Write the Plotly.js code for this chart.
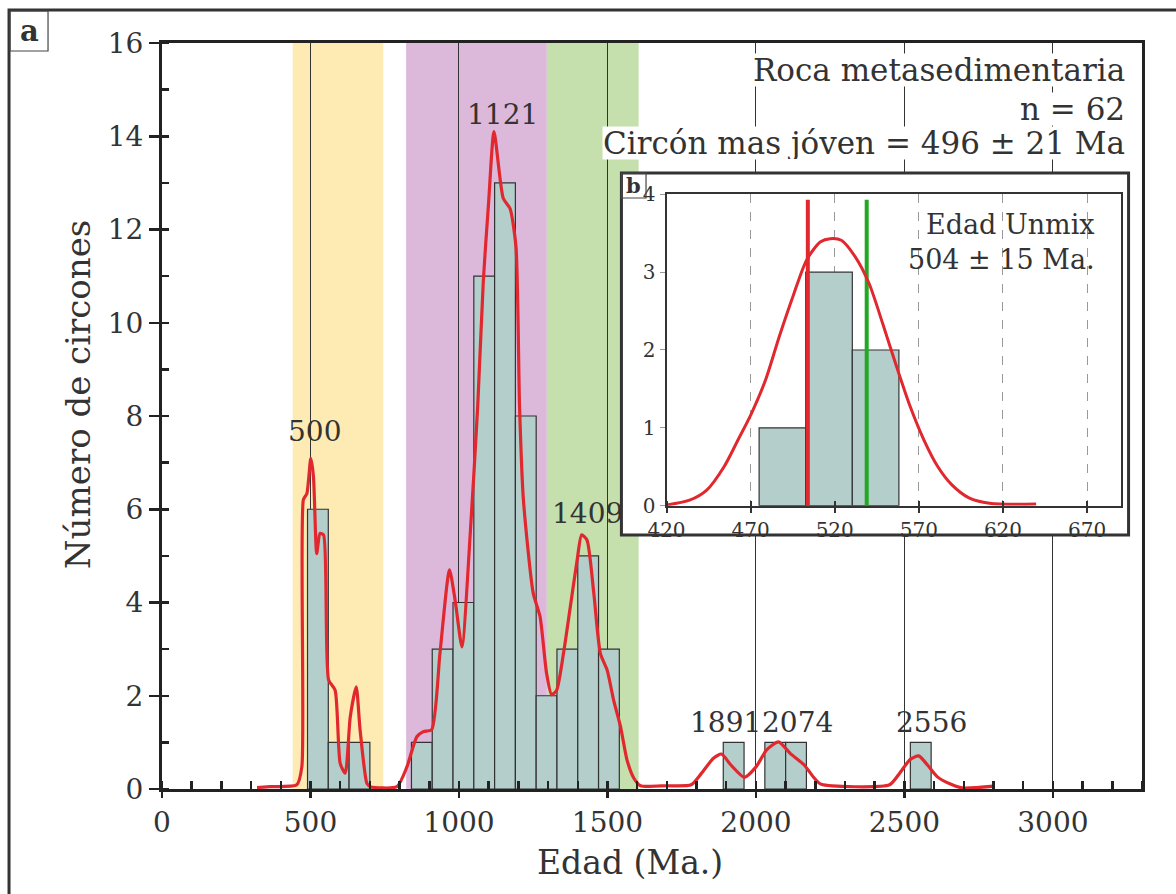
<!DOCTYPE html>
<html><head><meta charset="utf-8">
<script src="https://cdn.plot.ly/plotly-3.0.1.min.js"></script>
<style>html,body{margin:0;padding:0;background:#fff}#chart{width:1176px;height:894px}</style>
</head><body><div id="chart"></div>
<script>
// ---- main histogram (bins of 70 Ma) ----
const binCenters = [525, 595, 665, 875, 945, 1015, 1085, 1155, 1225, 1295, 1365, 1435, 1505, 1925, 2065, 2135, 2555];
const binCounts  = [6, 1, 1, 1, 3, 4, 11, 13, 8, 2, 3, 5, 3, 1, 1, 1, 1];
const binWidth = 70;

// ---- probability density curve ----
const kdeAge = [320, 364, 454, 471, 476, 488, 501, 510, 521, 532, 544, 561, 583, 600, 617, 634, 654, 667, 690, 701,
  791, 825, 858, 880, 908, 936, 968, 987, 1010, 1038, 1063, 1082, 1100, 1118, 1149, 1172, 1192, 1204, 1217, 1250,
  1273, 1295, 1312, 1329, 1352, 1375, 1398, 1413, 1431, 1454, 1476, 1499, 1521, 1544, 1566, 1589, 1611, 1700,
  1782, 1817, 1857, 1884, 1915, 1961, 2001, 2036, 2076, 2116, 2162, 2197, 2220, 2450, 2484, 2519, 2548, 2577,
  2611, 2657, 2698, 2801];
const kdeVal = [0.03, 0.05, 0.09, 0.48, 6.2, 6.34, 7.09, 6.7, 5.05, 5.48, 5.45, 2.34, 2.12, 0.55, 0.34, 1.55, 2.19, 1.27, 0.12, 0.05,
  0.05, 0.48, 1.12, 1.23, 1.27, 2.91, 4.7, 4.05, 3.05, 5.48, 8.2, 10.9, 12.6, 14.1, 12.67, 12.45, 11.63, 8.2, 6.2, 4.2,
  3.7, 2.48, 2.02, 2.12, 2.91, 3.91, 4.91, 5.45, 5.34, 4.2, 2.91, 2.55, 1.9, 1.34, 0.62, 0.23, 0.07, 0.07,
  0.09, 0.34, 0.66, 0.75, 0.52, 0.25, 0.48, 0.84, 1.01, 0.76, 0.52, 0.23, 0.1, 0.09, 0.34, 0.63, 0.71, 0.52,
  0.26, 0.1, 0.02, 0.06];

// ---- peak labels ----
const peakLabels   = ['500', '1121', '1409', '1891', '2074', '2556'];
const peakLabelAge = [512, 1146, 1432, 1896, 2140, 2592];
const peakLabelY   = [7.66, 14.46, 5.9, 1.43, 1.43, 1.43];

// ---- coloured age bands ----
const bandStart  = [440, 822, 1296];
const bandEnd    = [745, 1296, 1605];
const bandColors = ['#fdebb3', '#dcb9db', '#c5dfad'];

// ---- inset (b) ----
const insetCenters = [488.9, 516.6, 544.3];
const insetCounts  = [1, 3, 2];
const insetWidth = 27.7;
const insetCurveAge = [420.4, 433.7, 443.9, 454.2, 462.4, 470.6, 478.8, 487, 495.2, 503.4, 511.6, 517.3, 523.9, 532.1,
  540.3, 548.5, 556.7, 564.9, 573.1, 581.3, 589.5, 599.8, 612, 639.7];
const insetCurveVal = [0.01, 0.07, 0.2, 0.5, 0.84, 1.19, 1.61, 2.17, 2.69, 3.16, 3.39, 3.43, 3.41, 3.2,
  2.86, 2.34, 1.79, 1.27, 0.84, 0.5, 0.27, 0.1, 0.03, 0.02];
const unmixAge = 504;
const secondAge = 539;
const markerTop = 3.93;

const FONT = '"DejaVu Serif", "Liberation Serif", serif';
const TXT = '#333333';

const traces = [
  { type: 'bar', x: binCenters, y: binCounts, width: binWidth, xaxis: 'x', yaxis: 'y',
    marker: { color: '#b4cecb', line: { color: '#333', width: 1.2 } }, hoverinfo: 'x+y' },
  { type: 'scatter', mode: 'lines', x: kdeAge, y: kdeVal, xaxis: 'x', yaxis: 'y',
    line: { color: '#e0282e', width: 3.2, shape: 'spline', smoothing: 0.6 } },
  // blank white box behind the inset
  { type: 'scatter', mode: 'markers', x: [], y: [], xaxis: 'x2', yaxis: 'y2' },
  { type: 'bar', x: insetCenters, y: insetCounts, width: insetWidth, xaxis: 'x3', yaxis: 'y3',
    marker: { color: '#b4cecb', line: { color: '#333', width: 1.2 } } },
  { type: 'scatter', mode: 'lines', x: [unmixAge, unmixAge], y: [0, markerTop], xaxis: 'x3', yaxis: 'y3',
    line: { color: '#e0282e', width: 4 } },
  { type: 'scatter', mode: 'lines', x: [secondAge, secondAge], y: [0, markerTop], xaxis: 'x3', yaxis: 'y3',
    line: { color: '#22a822', width: 4 } },
  { type: 'scatter', mode: 'lines', x: insetCurveAge, y: insetCurveVal, xaxis: 'x3', yaxis: 'y3',
    line: { color: '#e0282e', width: 3, shape: 'spline', smoothing: 0.8 } }
];

const shapes = bandStart.map((s, i) => ({
  type: 'rect', xref: 'x', yref: 'y', x0: s, x1: bandEnd[i], y0: 0, y1: 16,
  fillcolor: bandColors[i], line: { width: 0 }, layer: 'below'
}));
// figure frame
shapes.push({ type: 'rect', xref: 'paper', yref: 'paper', x0: -0.1561, x1: 1.04, y0: -0.15, y1: 1.0442,
  line: { color: '#333', width: 3 }, fillcolor: 'rgba(0,0,0,0)', layer: 'above' });
// "a" box
shapes.push({ type: 'rect', xref: 'paper', yref: 'paper', x0: -0.1551, x1: -0.1163, y0: 0.9893, y1: 1.0429,
  line: { color: '#444', width: 1.2 }, fillcolor: 'rgba(0,0,0,0)', layer: 'above' });
// inset frame
shapes.push({ type: 'rect', xref: 'paper', yref: 'paper', x0: 0.4688, x1: 0.9863, y0: 0.3405, y1: 0.8257,
  line: { color: '#333', width: 3 }, fillcolor: 'rgba(0,0,0,0)', layer: 'above' });
// "b" box
shapes.push({ type: 'rect', xref: 'paper', yref: 'paper', x0: 0.4688, x1: 0.4939, y0: 0.7922, y1: 0.8257,
  line: { color: '#444', width: 1.2 }, fillcolor: 'rgba(0,0,0,0)', layer: 'above' });

const annotations = peakLabels.map((t, i) => ({
  text: t, x: peakLabelAge[i], y: peakLabelY[i], xref: 'x', yref: 'y', showarrow: false,
  xanchor: 'center', yanchor: 'middle', font: { family: FONT, size: 28, color: TXT }
}));
const infoLines = ['Roca metasedimentaria', 'n = 62', 'Circón mas jóven = 496 ± 21 Ma'];
const infoY = [0.9638, 0.9115, 0.8660];
infoLines.forEach((t, i) => annotations.push({
  text: t, xref: 'paper', yref: 'paper', x: 0.9837, y: infoY[i], xanchor: 'right', yanchor: 'middle',
  showarrow: false, bgcolor: '#ffffff', borderpad: 0, height: 32, valign: 'middle',
  font: { family: FONT, size: 31, color: TXT }
}));
annotations.push({ text: 'Edad Unmix<br>504 ± 15 Ma.', xref: 'paper', yref: 'paper', x: 0.954, y: 0.7326,
  xanchor: 'right', yanchor: 'middle', align: 'right', showarrow: false,
  font: { family: FONT, size: 27, color: TXT } });
annotations.push({ text: '<b>a</b>', xref: 'paper', yref: 'paper', x: -0.1357, y: 1.0161, xanchor: 'center',
  yanchor: 'middle', showarrow: false, font: { family: FONT, size: 29, color: TXT } });
annotations.push({ text: '<b>b</b>', xref: 'paper', yref: 'paper', x: 0.4814, y: 0.809, xanchor: 'center',
  yanchor: 'middle', showarrow: false, font: { family: FONT, size: 21, color: TXT } });
annotations.push({ text: 'Número de circones', xref: 'paper', yref: 'paper', x: -0.0857, y: 0.528,
  xanchor: 'center', yanchor: 'middle', textangle: -90, showarrow: false,
  font: { family: FONT, size: 34, color: TXT } });
annotations.push({ text: 'Edad (Ma.)', xref: 'paper', yref: 'paper', x: 0.4776, y: -0.0979,
  xanchor: 'center', yanchor: 'middle', showarrow: false, font: { family: FONT, size: 33, color: TXT } });

const layout = {
  width: 1176, height: 894,
  margin: { l: 162, r: 34, t: 43, b: 105 },
  paper_bgcolor: '#ffffff', plot_bgcolor: '#ffffff',
  showlegend: false, bargap: 0,
  font: { family: FONT, color: TXT },
  xaxis: {
    domain: [0, 1], anchor: 'y', range: [0, 3300], tick0: 0, dtick: 500,
    showline: true, mirror: true, linecolor: '#222', linewidth: 3,
    ticks: 'outside', ticklen: 6, tickwidth: 2.5, tickcolor: '#222',
    minor: { ticks: 'inside', dtick: 100, tick0: 0, ticklen: 8, tickwidth: 2.5, tickcolor: '#222' },
    showgrid: true, gridcolor: '#333', gridwidth: 1, zeroline: false,
    tickfont: { family: FONT, size: 28, color: TXT }
  },
  yaxis: {
    domain: [0, 1], anchor: 'x', range: [0, 16], tick0: 0, dtick: 2,
    showline: true, mirror: true, linecolor: '#222', linewidth: 3,
    ticks: 'outside', ticklen: 10, tickwidth: 2.5, tickcolor: '#222',
    minor: { ticks: 'inside', dtick: 1, tick0: 0, ticklen: 7, tickwidth: 2.5, tickcolor: '#222' },
    showgrid: false, zeroline: false,
    tickfont: { family: FONT, size: 28, color: TXT }
  },
  xaxis2: { domain: [0.4688, 0.9863], anchor: 'y2', range: [0, 1], showline: false, showgrid: false,
    zeroline: false, showticklabels: false, ticks: '', fixedrange: true },
  yaxis2: { domain: [0.3405, 0.8257], anchor: 'x2', range: [0, 1], showline: false, showgrid: false,
    zeroline: false, showticklabels: false, ticks: '', fixedrange: true },
  xaxis3: {
    domain: [0.5148, 0.9783], anchor: 'y3', range: [420, 690], tick0: 420, dtick: 50,
    showline: true, mirror: true, linecolor: '#333', linewidth: 2,
    ticks: 'outside', ticklen: 5, tickwidth: 2, tickcolor: '#333',
    minor: { ticks: 'inside', dtick: 50, tick0: 420, ticklen: 5, tickwidth: 2, tickcolor: '#333' },
    showgrid: true, gridcolor: '#999', gridwidth: 1, griddash: 'dash', zeroline: false,
    tickfont: { family: FONT, size: 20, color: TXT }
  },
  yaxis3: {
    domain: [0.3798, 0.7972], anchor: 'x3', range: [0, 4], tick0: 0, dtick: 1,
    showline: true, mirror: true, linecolor: '#333', linewidth: 2,
    ticks: 'outside', ticklen: 5, tickwidth: 1, tickcolor: '#999',
    showgrid: false, zeroline: false,
    tickfont: { family: FONT, size: 20, color: TXT }
  },
  shapes: shapes,
  annotations: annotations
};

Plotly.newPlot('chart', traces, layout, { displayModeBar: false, staticPlot: true });
</script>
</body></html>
